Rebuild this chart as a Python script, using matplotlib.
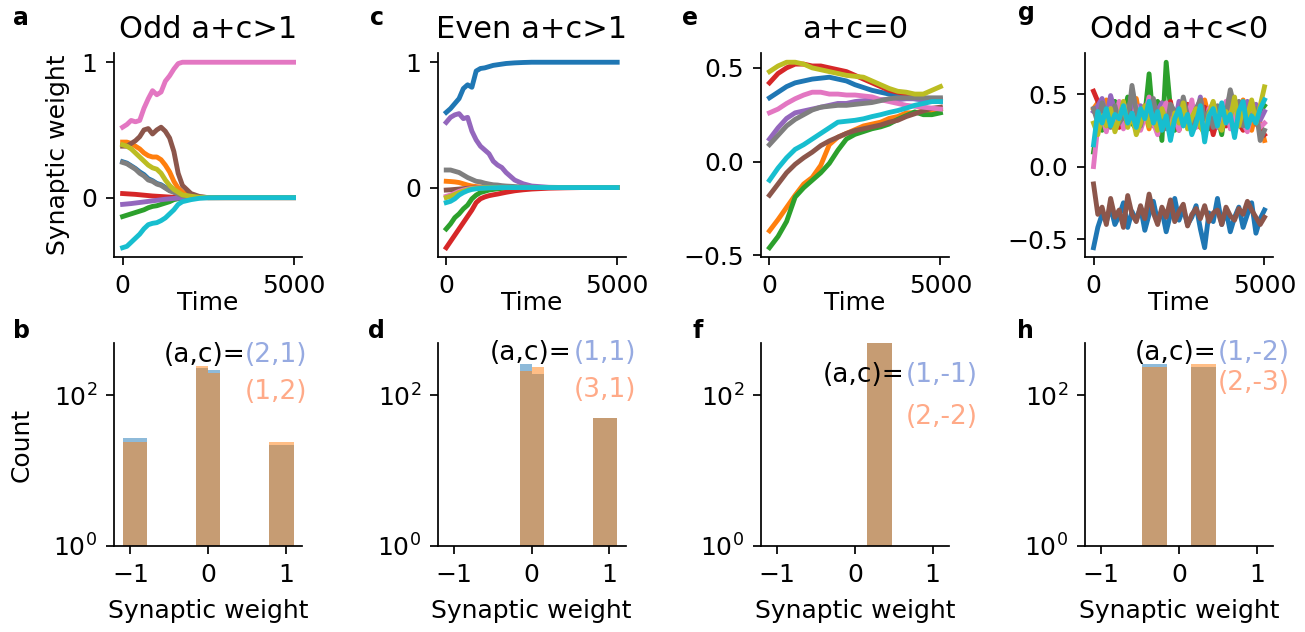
import numpy as np
import matplotlib
matplotlib.use('Agg')
import matplotlib.pyplot as plt
from matplotlib.ticker import NullLocator

# ---- time courses of the 10 synaptic weights (C0..C9) ----
t_ac = [0, 125, 250, 375, 500, 625, 750, 875, 1000, 1125, 1250, 1375, 1500,
        1625, 1750, 2000, 2250, 2500, 3000, 3500, 4000, 4500, 5000]

# a: Odd a+c>1
a_w = [
    [0.265, 0.255, 0.235, 0.215, 0.19, 0.17, 0.14, 0.125, 0.105, 0.095, 0.075, 0.055, 0.042, 0.028, 0.017, 0.006, 0.002, 0, 0, 0, 0, 0, 0],
    [0.41, 0.41, 0.40, 0.38, 0.36, 0.33, 0.31, 0.30, 0.30, 0.28, 0.24, 0.19, 0.12, 0.07, 0.04, 0.015, 0.005, 0, 0, 0, 0, 0, 0],
    [-0.14, -0.13, -0.12, -0.11, -0.10, -0.09, -0.075, -0.065, -0.06, -0.05, -0.04, -0.03, -0.015, -0.008, -0.004, -0.001, 0, 0, 0, 0, 0, 0, 0],
    [0.03, 0.028, 0.026, 0.024, 0.021, 0.018, 0.015, 0.012, 0.01, 0.008, 0.006, 0.004, 0.003, 0.002, 0.001, 0, 0, 0, 0, 0, 0, 0, 0],
    [-0.05, -0.047, -0.044, -0.04, -0.036, -0.032, -0.028, -0.024, -0.02, -0.016, -0.012, -0.009, -0.006, -0.004, -0.002, 0, 0, 0, 0, 0, 0, 0, 0],
    [0.38, 0.38, 0.40, 0.42, 0.45, 0.50, 0.51, 0.47, 0.50, 0.52, 0.49, 0.44, 0.34, 0.18, 0.09, 0.03, 0.008, 0, 0, 0, 0, 0, 0],
    [0.52, 0.54, 0.57, 0.56, 0.57, 0.66, 0.73, 0.79, 0.76, 0.78, 0.86, 0.90, 0.95, 0.99, 1.0, 1.0, 1.0, 1.0, 1.0, 1.0, 1.0, 1.0, 1.0],
    [0.26, 0.25, 0.23, 0.21, 0.18, 0.16, 0.13, 0.12, 0.10, 0.09, 0.07, 0.05, 0.04, 0.025, 0.015, 0.005, 0.001, 0, 0, 0, 0, 0, 0],
    [0.39, 0.38, 0.36, 0.33, 0.30, 0.27, 0.24, 0.22, 0.21, 0.18, 0.13, 0.09, 0.06, 0.04, 0.02, 0.01, 0.002, 0, 0, 0, 0, 0, 0],
    [-0.37, -0.36, -0.33, -0.30, -0.27, -0.23, -0.20, -0.19, -0.185, -0.17, -0.15, -0.12, -0.09, -0.05, -0.03, -0.015, -0.005, -0.001, 0, 0, 0, 0, 0],
]

# c: Even a+c>1
c_w = [
    [0.60, 0.63, 0.67, 0.71, 0.79, 0.82, 0.80, 0.93, 0.95, 0.955, 0.965, 0.975, 0.98, 0.985, 0.99, 0.995, 0.998, 1.0, 1.0, 1.0, 1.0, 1.0, 1.0],
    [0.05, 0.048, 0.045, 0.04, 0.03, 0.02, 0.012, 0.008, 0.005, 0.003, 0.002, 0.001, 0, 0, 0, 0, 0, 0, 0, 0, 0, 0, 0],
    [-0.33, -0.29, -0.24, -0.21, -0.17, -0.14, -0.09, -0.06, -0.04, -0.03, -0.02, -0.015, -0.01, -0.007, -0.005, -0.002, 0, 0, 0, 0, 0, 0, 0],
    [-0.48, -0.43, -0.38, -0.33, -0.28, -0.23, -0.18, -0.12, -0.09, -0.075, -0.065, -0.058, -0.052, -0.045, -0.038, -0.026, -0.018, -0.012, -0.005, -0.002, 0, 0, 0],
    [0.52, 0.56, 0.58, 0.59, 0.55, 0.56, 0.45, 0.38, 0.33, 0.30, 0.27, 0.21, 0.18, 0.16, 0.12, 0.06, 0.03, 0.012, 0.002, 0, 0, 0, 0],
    [-0.02, -0.018, -0.015, -0.012, -0.009, -0.006, -0.004, -0.002, -0.001, 0, 0, 0, 0, 0, 0, 0, 0, 0, 0, 0, 0, 0, 0],
    [-0.07, -0.06, -0.045, -0.03, -0.02, -0.012, -0.007, -0.004, -0.002, -0.001, 0, 0, 0, 0, 0, 0, 0, 0, 0, 0, 0, 0, 0],
    [0.14, 0.14, 0.13, 0.12, 0.10, 0.08, 0.065, 0.05, 0.045, 0.035, 0.028, 0.022, 0.02, 0.015, 0.012, 0.008, 0.004, 0.002, 0, 0, 0, 0, 0],
    [-0.08, -0.07, -0.055, -0.04, -0.028, -0.018, -0.01, -0.006, -0.003, -0.001, 0, 0, 0, 0, 0, 0, 0, 0, 0, 0, 0, 0, 0],
    [-0.12, -0.11, -0.09, -0.06, -0.04, -0.025, -0.015, -0.01, -0.007, -0.005, -0.003, -0.002, -0.001, 0, 0, 0, 0, 0, 0, 0, 0, 0, 0],
]

# e: a+c=0
t_e = [0, 250, 500, 750, 1000, 1250, 1500, 1750, 2000, 2250, 2500,
       2750, 3000, 3250, 3500, 3750, 4000, 4250, 4500, 4750, 5000]
e_w = [
    [0.34, 0.37, 0.40, 0.42, 0.43, 0.44, 0.445, 0.45, 0.44, 0.43, 0.41, 0.395, 0.38, 0.37, 0.36, 0.35, 0.34, 0.335, 0.33, 0.325, 0.32],
    [-0.37, -0.31, -0.245, -0.18, -0.12, -0.085, -0.02, 0.09, 0.13, 0.15, 0.17, 0.19, 0.20, 0.21, 0.23, 0.24, 0.26, 0.26, 0.27, 0.27, 0.28],
    [-0.46, -0.40, -0.32, -0.19, -0.14, -0.10, -0.06, -0.01, 0.06, 0.12, 0.145, 0.16, 0.175, 0.185, 0.20, 0.225, 0.245, 0.265, 0.25, 0.25, 0.26],
    [0.42, 0.47, 0.50, 0.52, 0.52, 0.51, 0.51, 0.50, 0.49, 0.48, 0.46, 0.44, 0.42, 0.40, 0.38, 0.37, 0.36, 0.35, 0.34, 0.33, 0.33],
    [0.12, 0.18, 0.23, 0.26, 0.27, 0.28, 0.29, 0.30, 0.31, 0.31, 0.32, 0.325, 0.33, 0.33, 0.33, 0.33, 0.335, 0.335, 0.33, 0.33, 0.33],
    [-0.18, -0.12, -0.06, -0.015, 0.02, 0.05, 0.085, 0.11, 0.13, 0.15, 0.165, 0.175, 0.185, 0.195, 0.21, 0.22, 0.24, 0.255, 0.27, 0.284, 0.29],
    [0.26, 0.28, 0.31, 0.335, 0.355, 0.37, 0.37, 0.36, 0.36, 0.355, 0.355, 0.35, 0.345, 0.33, 0.32, 0.31, 0.30, 0.295, 0.29, 0.285, 0.28],
    [0.09, 0.14, 0.19, 0.225, 0.25, 0.275, 0.29, 0.295, 0.30, 0.30, 0.305, 0.31, 0.315, 0.325, 0.335, 0.34, 0.34, 0.34, 0.34, 0.34, 0.34],
    [0.48, 0.51, 0.53, 0.53, 0.52, 0.50, 0.49, 0.48, 0.47, 0.46, 0.455, 0.45, 0.43, 0.41, 0.39, 0.375, 0.37, 0.36, 0.36, 0.38, 0.40],
    [-0.10, -0.035, 0.02, 0.065, 0.09, 0.12, 0.15, 0.18, 0.21, 0.215, 0.22, 0.228, 0.24, 0.25, 0.262, 0.272, 0.285, 0.30, 0.31, 0.32, 0.32],
]

# g: Odd a+c<0 (noisy)
t_g = [0, 125, 250, 375, 500, 625, 750, 875, 1000, 1125,
       1250, 1375, 1500, 1625, 1750, 1875, 2000, 2125, 2250, 2375,
       2500, 2625, 2750, 2875, 3000, 3125, 3250, 3375, 3500, 3625,
       3750, 3875, 4000, 4125, 4250, 4375, 4500, 4625, 4750, 4875, 5000]
g_w = [
    [-0.56, -0.42, -0.33, -0.38, -0.28, -0.40, -0.34, -0.25, -0.42, -0.31,
     -0.37, -0.28, -0.44, -0.33, -0.24, -0.38, -0.30, -0.45, -0.33, -0.22,
     -0.37, -0.29, -0.40, -0.35, -0.27, -0.43, -0.56, -0.32, -0.38, -0.22,
     -0.40, -0.30, -0.45, -0.35, -0.28, -0.42, -0.33, -0.25, -0.46, -0.36, -0.30],
    [0.40, 0.44, 0.35, 0.46, 0.30, 0.40, 0.36, 0.27, 0.42, 0.33,
     0.47, 0.31, 0.38, 0.26, 0.41, 0.35, 0.44, 0.30, 0.27, 0.39,
     0.33, 0.45, 0.28, 0.36, 0.41, 0.30, 0.46, 0.34, 0.27, 0.40,
     0.35, 0.30, 0.43, 0.28, 0.37, 0.46, 0.32, 0.25, 0.38, 0.30, 0.18],
    [0.10, 0.30, 0.25, 0.40, 0.32, 0.45, 0.28, 0.35, 0.48, 0.30,
     0.26, 0.40, 0.35, 0.64, 0.30, 0.45, 0.18, 0.72, 0.40, 0.25,
     0.35, 0.30, 0.42, 0.28, 0.38, 0.45, 0.30, 0.26, 0.40, 0.35,
     0.22, 0.44, 0.30, 0.38, 0.42, 0.27, 0.33, 0.45, 0.30, 0.38, 0.42],
    [0.52, 0.45, 0.38, 0.30, 0.42, 0.35, 0.27, 0.40, 0.33, 0.45,
     0.28, 0.37, 0.42, 0.30, 0.36, 0.26, 0.40, 0.33, 0.45, 0.30,
     0.25, 0.38, 0.43, 0.30, 0.35, 0.27, 0.41, 0.36, 0.22, 0.33,
     0.40, 0.28, 0.37, 0.44, 0.30, 0.25, 0.35, 0.41, 0.30, 0.26, 0.22],
    [0.38, 0.42, 0.47, 0.33, 0.49, 0.38, 0.30, 0.44, 0.36, 0.50,
     0.31, 0.42, 0.36, 0.47, 0.28, 0.39, 0.44, 0.33, 0.40, 0.29,
     0.45, 0.37, 0.31, 0.42, 0.35, 0.48, 0.30, 0.38, 0.44, 0.27,
     0.36, 0.42, 0.49, 0.33, 0.40, 0.30, 0.45, 0.37, 0.43, 0.32, 0.38],
    [-0.12, -0.33, -0.28, -0.40, -0.22, -0.35, -0.30, -0.42, -0.20, -0.33,
     -0.38, -0.27, -0.36, -0.19, -0.32, -0.40, -0.28, -0.35, -0.23, -0.38,
     -0.31, -0.26, -0.41, -0.33, -0.29, -0.36, -0.27, -0.38, -0.32, -0.30,
     -0.40, -0.28, -0.34, -0.37, -0.29, -0.33, -0.24, -0.30, -0.35, -0.40, -0.35],
    [0.00, 0.28, 0.35, 0.24, 0.40, 0.30, 0.45, 0.26, 0.36, 0.31,
     0.42, 0.25, 0.34, 0.48, 0.30, 0.22, 0.38, 0.44, 0.28, 0.35,
     0.25, 0.40, 0.32, 0.46, 0.27, 0.36, 0.21, 0.40, 0.33, 0.28,
     0.37, 0.45, 0.26, 0.34, 0.41, 0.30, 0.24, 0.38, 0.33, 0.27, 0.30],
    [0.40, 0.30, 0.44, 0.36, 0.27, 0.42, 0.30, 0.35, 0.30, 0.56,
     0.38, 0.28, 0.41, 0.34, 0.47, 0.30, 0.37, 0.26, 0.43, 0.38,
     0.32, 0.48, 0.35, 0.29, 0.40, 0.46, 0.33, 0.38, 0.27, 0.42,
     0.36, 0.36, 0.53, 0.41, 0.45, 0.28, 0.37, 0.33, 0.40, 0.18, 0.25],
    [0.30, 0.22, 0.35, 0.28, 0.40, 0.24, 0.33, 0.45, 0.27, 0.36,
     0.22, 0.30, 0.42, 0.28, 0.35, 0.25, 0.40, 0.31, 0.23, 0.37,
     0.30, 0.44, 0.26, 0.34, 0.40, 0.28, 0.22, 0.36, 0.45, 0.30,
     0.25, 0.38, 0.33, 0.48, 0.28, 0.40, 0.35, 0.46, 0.30, 0.42, 0.55],
    [0.15, 0.38, 0.30, 0.40, 0.28, 0.36, 0.33, 0.42, 0.30, 0.37,
     0.27, 0.40, 0.33, 0.45, 0.30, 0.38, 0.25, 0.35, 0.18, 0.33,
     0.40, 0.28, 0.36, 0.22, 0.30, 0.42, 0.17, 0.35, 0.40, 0.28,
     0.44, 0.30, 0.36, 0.20, 0.38, 0.45, 0.27, 0.35, 0.30, 0.40, 0.46],
]

# ---- final weight histograms (counts per bin) ----
bin_edges = [-1.1, -0.786, -0.471, -0.157, 0.0, 0.157, 0.471, 0.786, 1.1]
b_counts_1 = [27, 0, 0, 228, 214, 0, 0, 22]    # (a,c)=(2,1)
b_counts_2 = [24, 0, 0, 242, 194, 0, 0, 24]    # (a,c)=(1,2)
d_counts_1 = [0, 0, 0, 257, 190, 0, 0, 49]     # (1,1)
d_counts_2 = [0, 0, 0, 210, 235, 0, 0, 49]     # (3,1)
f_counts_1 = [0, 0, 0, 0, 0, 500, 0, 0]        # (1,-1)
f_counts_2 = [0, 0, 0, 0, 0, 500, 0, 0]        # (2,-2)
h_counts_1 = [0, 0, 255, 0, 0, 237, 0, 0]      # (1,-2)
h_counts_2 = [0, 0, 237, 0, 0, 255, 0, 0]      # (2,-3)

titles = ['Odd a+c>1', 'Even a+c>1', 'a+c=0', 'Odd a+c<0']
pair_1 = ['(2,1)', '(1,1)', '(1,-1)', '(1,-2)']
pair_2 = ['(1,2)', '(3,1)', '(2,-2)', '(2,-3)']

plt.rcParams['font.family'] = 'DejaVu Sans'
plt.rcParams['font.size'] = 18

fig = plt.figure(figsize=(13.05, 6.32), dpi=100)

lefts = [0.0874, 0.3354, 0.5831, 0.8314]
width = 0.1441


def style(ax):
    for s in ['top', 'right']:
        ax.spines[s].set_visible(False)
    for s in ['left', 'bottom']:
        ax.spines[s].set_linewidth(1.25)
    ax.tick_params(length=5.5, width=1.25, pad=6.5, labelsize=18)


# top row: trajectories
top_data = [(t_ac, a_w), (t_ac, c_w), (t_e, e_w), (t_g, g_w)]
top_yticks = [[0, 1], [0, 1], [-0.5, 0, 0.5], [-0.5, 0, 0.5]]
top_letters = [('a', 0.010, 0.960), ('c', 0.2835, 0.960),
               ('e', 0.5226, 0.960), ('g', 0.780, 0.968)]
for k in range(4):
    ax = fig.add_axes([lefts[k], 0.5934, width, 0.3228])
    t, ws = top_data[k]
    for i, w in enumerate(ws):
        ax.plot(t, w, color='C%d' % i, lw=3.5)
    ax.set_xticks([0, 5000])
    ax.set_yticks(top_yticks[k])
    ax.set_xlabel('Time', labelpad=-5)
    ax.set_title(titles[k], fontsize=22, pad=11)
    if k == 0:
        ax.set_ylabel('Synaptic weight', labelpad=8)
    style(ax)
    l, x, y = top_letters[k]
    fig.text(x, y, l, fontsize=17, fontweight='bold')

# bottom row: histograms
hist_data = [(b_counts_1, b_counts_2), (d_counts_1, d_counts_2),
             (f_counts_1, f_counts_2), (h_counts_1, h_counts_2)]
# (x right of "(a,c)=", y of first line, x right of colored, y of second line)
txt_pos = [(0.697, 0.94, 1.03, 0.759), (0.713, 0.951, 1.055, 0.768),
           (0.766, 0.842, 1.154, 0.635), (0.702, 0.951, 1.09, 0.803)]
bot_letters = [('b', 0.010, 0.465), ('d', 0.282, 0.465),
               ('f', 0.531, 0.465), ('h', 0.779, 0.465)]
centers = [(bin_edges[i] + bin_edges[i + 1]) / 2 for i in range(len(bin_edges) - 1)]
for k in range(4):
    ax = fig.add_axes([lefts[k], 0.1361, width, 0.3212])
    c1, c2 = hist_data[k]
    ax.hist(centers, bins=bin_edges, weights=c1, color='C0', alpha=0.5, log=True)
    ax.hist(centers, bins=bin_edges, weights=c2, color='C1', alpha=0.5, log=True)
    ax.set_yscale('log')
    ax.set_ylim(1, 490)
    ax.set_yticks([1, 100])
    ax.yaxis.set_minor_locator(NullLocator())
    ax.set_xlim(-1.21, 1.21)
    ax.set_xticks([-1, 0, 1])
    ax.set_xlabel('Synaptic weight', labelpad=9)
    if k == 0:
        ax.set_ylabel('Count', labelpad=14)
    style(ax)
    x1, y1, x2, y2 = txt_pos[k]
    ax.text(x1, y1, '(a,c)=', transform=ax.transAxes, ha='right', va='center',
            fontsize=19, color='black')
    ax.text(x2, y1, pair_1[k], transform=ax.transAxes, ha='right', va='center',
            fontsize=19, color='#96aae1')
    ax.text(x2, y2, pair_2[k], transform=ax.transAxes, ha='right', va='center',
            fontsize=19, color='#ffaa88')
    l, x, y = bot_letters[k]
    fig.text(x, y, l, fontsize=17, fontweight='bold')

fig.savefig('out.png', dpi=100)
